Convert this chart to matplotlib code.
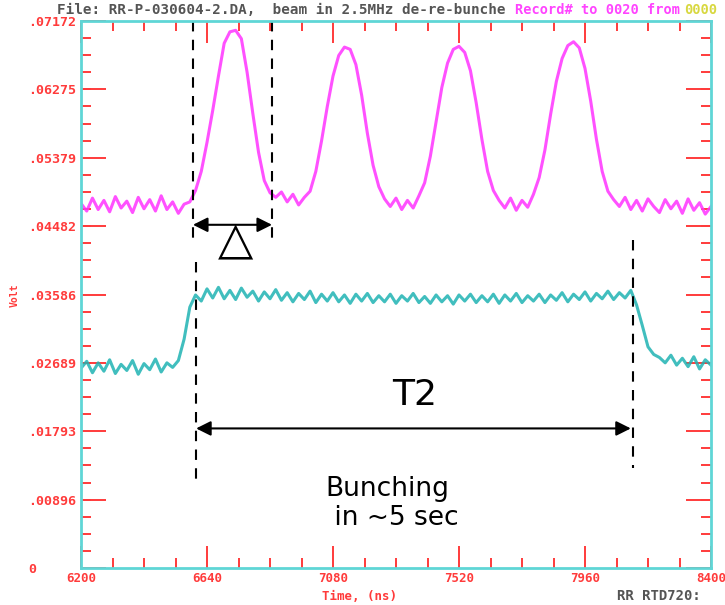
import matplotlib
matplotlib.use("Agg")
import matplotlib.pyplot as plt
import numpy as np

# scope record: time axis in ns, one sample every 20 ns
t_start, t_step = 6200, 20

# bunch signal (magenta), Volt
beam_bunched = [
    0.0478, 0.0468, 0.0485, 0.0470, 0.0482, 0.0467, 0.0487, 0.0472, 0.0481, 0.0466,
    0.0486, 0.0471, 0.0483, 0.0468, 0.0488, 0.0470, 0.0480, 0.0465, 0.0477, 0.0480,
    0.0495, 0.0520, 0.0558, 0.0600, 0.0645, 0.0688, 0.0703, 0.0705, 0.0694, 0.0650,
    0.0596, 0.0545, 0.0508, 0.0492, 0.0486, 0.0493, 0.0480, 0.0490, 0.0476, 0.0486,
    0.0494, 0.0520, 0.0560, 0.0605, 0.0645, 0.0672, 0.0683, 0.0680, 0.0660, 0.0620,
    0.0570, 0.0528, 0.0500, 0.0484, 0.0474, 0.0485, 0.0470, 0.0482, 0.0472, 0.0488,
    0.0505, 0.0540, 0.0585, 0.0630, 0.0662, 0.0680, 0.0684, 0.0676, 0.0652, 0.0610,
    0.0562, 0.0520, 0.0495, 0.0482, 0.0472, 0.0485, 0.0469, 0.0482, 0.0473, 0.0490,
    0.0512, 0.0548, 0.0595, 0.0638, 0.0668, 0.0685, 0.0690, 0.0682, 0.0655, 0.0612,
    0.0562, 0.0520, 0.0494, 0.0483, 0.0474, 0.0486, 0.0470, 0.0482, 0.0468, 0.0484,
    0.0474, 0.0466, 0.0483, 0.0471, 0.0481, 0.0465, 0.0484, 0.0469, 0.0479, 0.0464,
    0.0474,
]

# de-bunched beam current (cyan), Volt
beam_coasting = [
    0.0262, 0.0271, 0.0256, 0.0269, 0.0258, 0.0273, 0.0255, 0.0267, 0.0259, 0.0272,
    0.0254, 0.0268, 0.0260, 0.0274, 0.0257, 0.0269, 0.0263, 0.0272, 0.0300, 0.0342,
    0.0358, 0.0350, 0.0366, 0.0354, 0.0368, 0.0353, 0.0364, 0.0352, 0.0367, 0.0355,
    0.0363, 0.0350, 0.0362, 0.0353, 0.0365, 0.0351, 0.0361, 0.0349, 0.0360, 0.0352,
    0.0363, 0.0348, 0.0359, 0.0350, 0.0361, 0.0349, 0.0358, 0.0347, 0.0359, 0.0350,
    0.0360, 0.0348, 0.0357, 0.0349, 0.0359, 0.0347, 0.0357, 0.0350, 0.0360, 0.0348,
    0.0356, 0.0347, 0.0358, 0.0349, 0.0357, 0.0346, 0.0358, 0.0350, 0.0359, 0.0348,
    0.0357, 0.0349, 0.0359, 0.0347, 0.0358, 0.0350, 0.0360, 0.0348, 0.0357, 0.0350,
    0.0359, 0.0348, 0.0358, 0.0351, 0.0361, 0.0349, 0.0359, 0.0352, 0.0362, 0.0350,
    0.0360, 0.0353, 0.0363, 0.0352, 0.0361, 0.0354, 0.0364, 0.0345, 0.0318, 0.0290,
    0.0280, 0.0276, 0.0269, 0.0279, 0.0266, 0.0275, 0.0264, 0.0277, 0.0261, 0.0273,
    0.0266,
]

x_ticks = [6200, 6640, 7080, 7520, 7960, 8400]
x_labels = ["6200", "6640", "7080", "7520", "7960", "8400"]
y_ticks = [0, 0.00896, 0.01793, 0.02689, 0.03586, 0.04482, 0.05379, 0.06275, 0.07172]
y_labels = ["0", ".00896", ".01793", ".02689", ".03586", ".04482", ".05379", ".06275", ".07172"]

# markers drawn on top of the traces (ns)
bunch_left, bunch_right = 6591, 6867
t2_left, t2_right = 6602, 8128

red = "#ff3b3b"
cyan = "#5fd6d6"
mono = "DejaVu Sans Mono"

t = t_start + t_step * np.arange(len(beam_bunched))

fig = plt.figure(figsize=(7.25, 6.05), dpi=100)
ax = fig.add_axes([81 / 725, 37 / 605, 630 / 725, 547 / 605])

ax.plot(t, beam_bunched, color="#ff33ff", lw=2.2, alpha=0.85)
ax.plot(t, beam_coasting, color="#1fb3b3", lw=2.2, alpha=0.85)

ax.set_xlim(6200, 8400)
ax.set_ylim(0, 0.07172)

ax.set_xticks(x_ticks, x_labels)
ax.set_xticks(np.arange(6200, 8401, 110), minor=True)
ax.set_yticks(y_ticks, y_labels)
ax.set_yticks(np.linspace(0, 0.07172, 33), minor=True)

for lbl in ax.get_xticklabels() + ax.get_yticklabels():
    lbl.set_fontfamily(mono)
    lbl.set_fontweight("bold")
    lbl.set_color(red)
for lbl in ax.get_xticklabels():
    lbl.set_fontsize(9)
# volt labels start at a fixed left margin, like the scope printout
for lbl in ax.get_yticklabels():
    lbl.set_fontsize(9.6)
    lbl.set_horizontalalignment("left")

ax.tick_params(axis="both", which="both", direction="in", colors=red,
               top=True, right=True, width=1.4)
ax.tick_params(axis="x", which="major", length=16, pad=3)
ax.tick_params(axis="x", which="minor", length=7)
ax.tick_params(axis="y", which="major", length=18, pad=38)
ax.tick_params(axis="y", which="minor", length=7)

for sp in ax.spines.values():
    sp.set_color(cyan)
    sp.set_linewidth(2)

# header line of the scope record
fig.text(57 / 725, 1 - 10 / 605, "File: RR-P-030604-2.DA,  beam in 2.5MHz de-re-bunche",
         family=mono, fontsize=10.3, color="#555555", va="center", weight="bold")
fig.text(515 / 725, 1 - 10 / 605, "Record# to 0020 from",
         family=mono, fontsize=9.8, color="#ff44ff", va="center", weight="bold")
fig.text(684 / 725, 1 - 10 / 605, "0000",
         family=mono, fontsize=9.8, color="#d8d840", va="center", weight="bold")

fig.text(360 / 725, 1 - 597 / 605, "Time, (ns)", family=mono, fontsize=9,
         color=red, ha="center", va="center", weight="bold")
fig.text(659 / 725, 1 - 596 / 605, "RR RTD720:", family=mono, fontsize=10,
         color="#555555", ha="center", va="center", weight="bold")
fig.text(15 / 725, 1 - 295 / 605, "Volt", family=mono, fontsize=7,
         color=red, ha="center", va="center", rotation=90, weight="bold")

# dashed markers for bunch width and bunching time
dash = dict(color="black", lw=1.5, ls=(0, (5, 4)))
ax.plot([bunch_left, bunch_left], [0.0717, 0.0424], **dash)
ax.plot([bunch_right, bunch_right], [0.0717, 0.0430], **dash)
ax.plot([t2_left, t2_left], [0.0401, 0.0109], **dash)
ax.plot([t2_right, t2_right], [0.0430, 0.0131], **dash)

arrow = dict(arrowstyle="<|-|>", color="black", lw=1.5, mutation_scale=22,
             shrinkA=0, shrinkB=0)
ax.annotate("", xy=(bunch_left, 0.0450), xytext=(bunch_right, 0.0450), arrowprops=arrow)
ax.annotate("", xy=(t2_left, 0.0183), xytext=(t2_right - 8, 0.0183), arrowprops=arrow)

ax.text(6738, 0.0427, "\u25b3", fontsize=33, ha="center", va="center", color="black")
ax.text(7366, 0.0227, "T2", fontsize=26, ha="center", va="center", color="black")
ax.text(7055, 0.0085, "Bunching\n in ~5 sec", fontsize=19, ha="left",
        va="center", color="black", linespacing=1.15)

fig.savefig("out.png", dpi=100)
